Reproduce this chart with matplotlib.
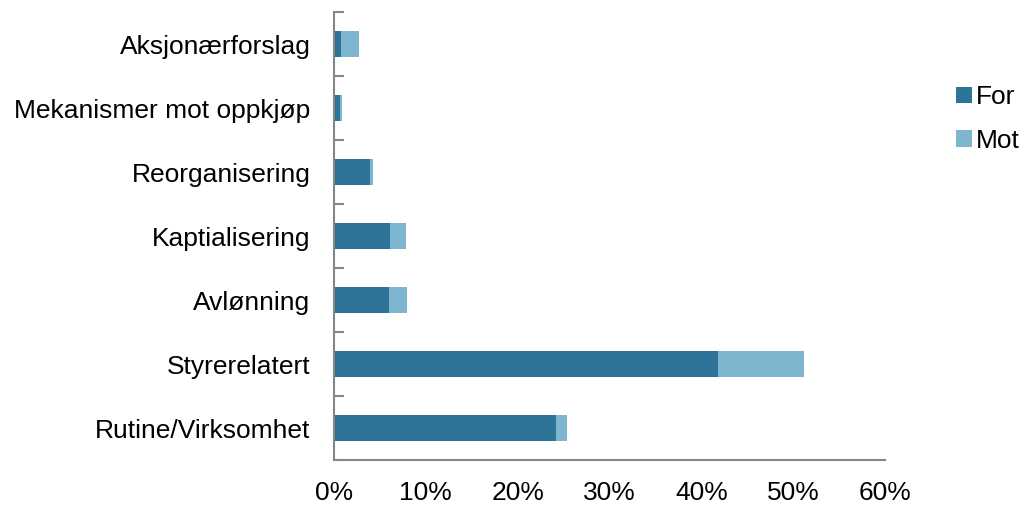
import numpy as np
import matplotlib
matplotlib.use('Agg')
import matplotlib.pyplot as plt
from matplotlib.ticker import FixedLocator, PercentFormatter

plt.rcParams['font.family'] = ['Liberation Sans', 'DejaVu Sans']

# data (percent)
categories = ['Rutine/Virksomhet', 'Styrerelatert', 'Avlønning', 'Kaptialisering',
              'Reorganisering', 'Mekanismer mot oppkjøp', 'Aksjonærforslag']
for_vals = [24.2, 41.8, 6.0, 6.1, 3.9, 0.62, 0.76]
mot_vals = [1.2, 9.4, 1.9, 1.7, 0.4, 0.25, 2.0]
x_ticks = [0, 10, 20, 30, 40, 50, 60]

c_for = '#2E7398'
c_mot = '#7EB5CF'
grey = '#868686'

fig = plt.figure(figsize=(10.23, 5.05), dpi=100)
ax = fig.add_axes([0.3265, 0.089, 0.5385, 0.887])

y = np.arange(len(categories))
ax.barh(y, for_vals, height=0.4, color=c_for, label='For')
ax.barh(y, mot_vals, left=for_vals, height=0.4, color=c_mot, label='Mot')

ax.set_xlim(0, 60)
ax.set_ylim(-0.5, len(categories) - 0.5)
ax.set_xticks(x_ticks)
ax.xaxis.set_major_formatter(PercentFormatter(decimals=0))
ax.set_yticks(y)
ax.set_yticklabels(categories)
ax.yaxis.set_minor_locator(FixedLocator(np.arange(-0.5, len(categories), 1.0)))

ax.tick_params(axis='x', length=0, labelsize=19, pad=15, colors='black')
ax.tick_params(axis='y', which='major', length=0, labelsize=19, pad=17)
ax.tick_params(axis='y', which='minor', length=7, width=1.5, direction='in', color=grey)

for s in ['top', 'right']:
    ax.spines[s].set_visible(False)
for s in ['left', 'bottom']:
    ax.spines[s].set_color(grey)
    ax.spines[s].set_linewidth(1.5)

ax.legend(loc='upper left', bbox_to_anchor=(1.11, 0.86), frameon=False, fontsize=19,
          handlelength=0.6, handleheight=0.6, handletextpad=0.15, labelspacing=0.75,
          borderaxespad=0)

fig.savefig('out.png', dpi=100)
